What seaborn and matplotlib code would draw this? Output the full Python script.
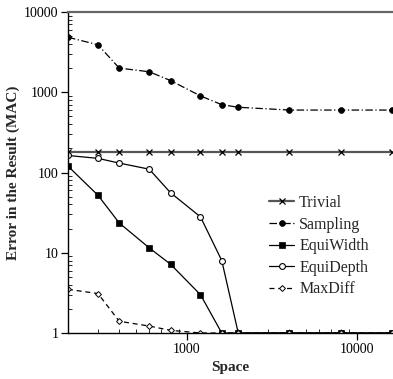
import numpy as np
import pandas as pd
import matplotlib
matplotlib.use("Agg")
import matplotlib.pyplot as plt
import seaborn as sns
from matplotlib.ticker import FixedLocator, FixedFormatter, LogLocator, NullFormatter

space = [200, 300, 400, 600, 800, 1200, 1600, 2000, 4000, 8000, 16000]
trivial = [180, 180, 180, 180, 180, 180, 180, 180, 180, 180, 180]
sampling = [4850, 3900, 2000, 1800, 1400, 900, 700, 650, 600, 600, 600]
equiwidth = [120, 52, 23.5, 11.5, 7.2, 3.0, 1.0, 1.0, 1.0, 1.0, 1.0]
equidepth = [163, 150, 131, 110, 56, 28, 8.0, 1.0, 1.0, 1.0, 1.0]
maxdiff = [3.5, 3.1, 1.4, 1.22, 1.08, 1.0, 1.0, 1.0, 1.0, 1.0, 1.0]

series_names = ["Trivial", "Sampling", "EquiWidth", "EquiDepth", "MaxDiff"]
series_values = [trivial, sampling, equiwidth, equidepth, maxdiff]

sns.set_style("ticks")
plt.rcParams["font.family"] = ["Liberation Serif", "DejaVu Serif"]

fig = plt.figure(figsize=(3.93, 3.79), dpi=100)
ax = fig.add_axes([68 / 393, 46 / 379, 324 / 393, 321 / 379])

styles = {
    "Trivial": dict(marker="x", linestyle="-", color="#555555", markeredgecolor="black",
                    markerfacecolor="black", markersize=4, linewidth=1.6, markeredgewidth=0.9),
    "Sampling": dict(marker="o", linestyle=(0, (6, 2, 1, 2)), color="black",
                     markerfacecolor="black", markeredgecolor="black",
                     markersize=4.2, linewidth=0.9, markeredgewidth=0.5),
    "EquiWidth": dict(marker="s", linestyle="-", color="black",
                      markerfacecolor="black", markeredgecolor="black",
                      markersize=4, linewidth=0.9, markeredgewidth=0.5),
    "EquiDepth": dict(marker="o", linestyle="-", color="black",
                      markerfacecolor="white", markeredgecolor="black",
                      markersize=4.2, linewidth=0.9, markeredgewidth=0.8),
    "MaxDiff": dict(marker="D", linestyle=(0, (4, 3)), color="black",
                    markerfacecolor="white", markeredgecolor="black",
                    markersize=3, linewidth=0.9, markeredgewidth=0.7),
}

for name, vals in zip(series_names, series_values):
    df = pd.DataFrame({"Space": space, "Error": vals})
    sns.lineplot(data=df, x="Space", y="Error", ax=ax, label=name,
                 errorbar=None, sort=False, **styles[name])

ax.set_xscale("log")
ax.set_yscale("log")
ax.set_xlim(200, 16000)
ax.set_ylim(1, 10000)

yt = [1, 10, 100, 1000, 10000]
ax.yaxis.set_major_locator(FixedLocator(yt))
ax.yaxis.set_major_formatter(FixedFormatter([str(v) for v in yt]))
ax.yaxis.set_minor_locator(LogLocator(base=10, subs=np.arange(2, 10), numticks=20))
ax.yaxis.set_minor_formatter(NullFormatter())
xt = [1000, 10000]
ax.xaxis.set_major_locator(FixedLocator(xt))
ax.xaxis.set_major_formatter(FixedFormatter([str(v) for v in xt]))
ax.xaxis.set_minor_locator(LogLocator(base=10, subs=np.arange(2, 10), numticks=20))
ax.xaxis.set_minor_formatter(NullFormatter())

ax.tick_params(axis="both", which="major", direction="out", length=5, width=0.9,
               labelsize=10, color="black", labelcolor="black", pad=2)
ax.tick_params(axis="both", which="minor", direction="in", length=3, width=0.7)

for s in ["left", "bottom"]:
    ax.spines[s].set_color("black")
    ax.spines[s].set_linewidth(1.0)
ax.spines["top"].set_visible(True)
ax.spines["top"].set_color("#666666")
ax.spines["top"].set_linewidth(1.6)
ax.spines["right"].set_visible(False)

ax.set_xlabel("Space", fontsize=11, fontweight="bold", labelpad=4)
ax.set_ylabel("Error in the Result (MAC)", fontsize=11, fontweight="bold", labelpad=3)

leg = ax.legend(loc="upper left", bbox_to_anchor=(0.6, 0.45), frameon=False,
                fontsize=11.5, handlelength=1.6, handletextpad=0.3, labelspacing=0.35,
                borderaxespad=0)

fig.savefig("out.png", dpi=100)
